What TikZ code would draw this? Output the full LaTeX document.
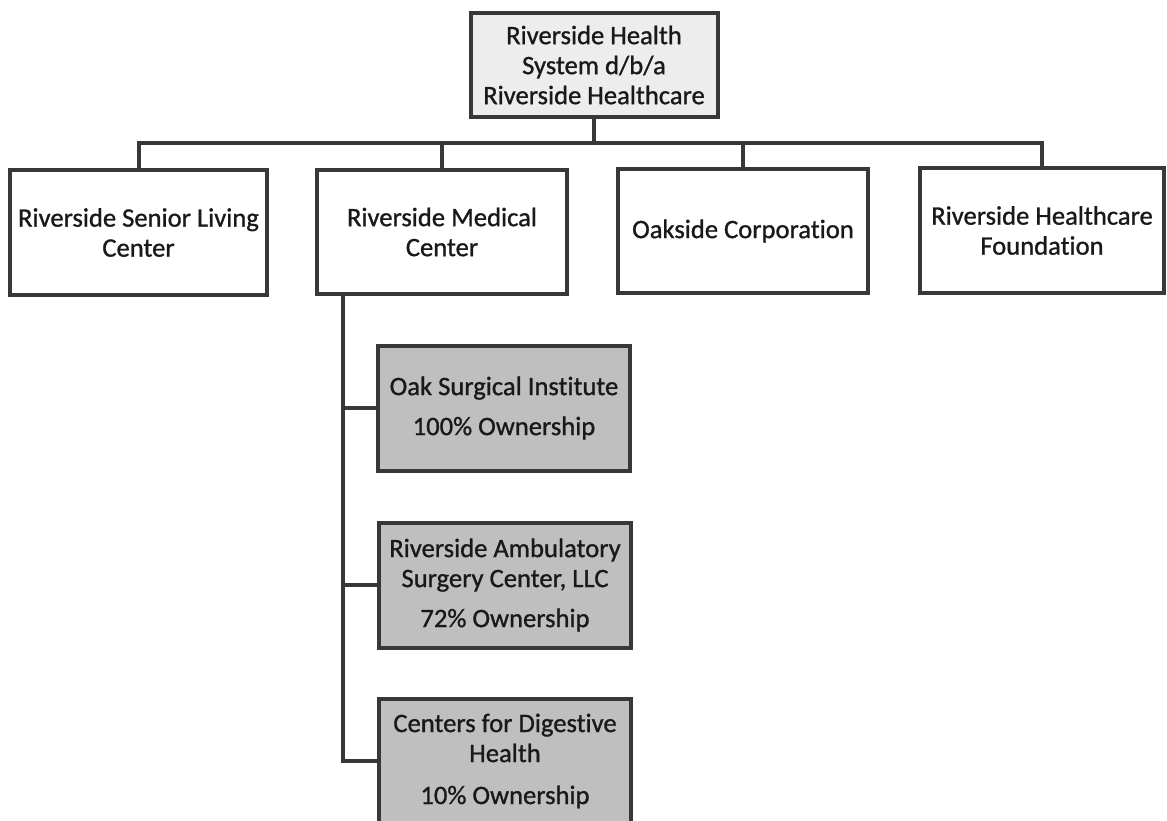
\documentclass[tikz,border=0pt]{standalone}
\usepackage{fontspec}
\setmainfont[RawFeature=-liga, FakeBold=1]{Carlito}
\definecolor{edge}{HTML}{383838}
\definecolor{topfill}{HTML}{EDEDED}
\definecolor{subfill}{HTML}{BFBFBF}
\begin{document}
\begin{tikzpicture}[x=1pt,y=-1pt,
  box/.style={draw=edge, line width=4pt, rectangle, inner sep=0pt, align=center,
    font=\fontsize{26.6}{30}\selectfont, text=black!90},
  whitebox/.style={box, fill=white, minimum width=250pt, minimum height=124pt},
  subbox/.style={box, fill=subfill, minimum width=252pt, minimum height=125pt},
  conn/.style={draw=edge, line width=4pt}]
\useasboundingbox (0,0) rectangle (1167,821);
\clip (0,0) rectangle (1167,821);
\fill[white] (0,0) rectangle (1167,821);

\node[box, fill=topfill, minimum width=247pt, minimum height=104pt] (top) at (594,65)
  {Riverside Health\\System d/b/a\\Riverside Healthcare};

\node[whitebox, minimum width=257pt] (b1) at (138.5,232.5) {Riverside Senior Living\\Center};
\node[whitebox] (b2) at (442,232) {Riverside Medical\\Center};
\node[whitebox] (b3) at (743,231) {Oakside Corporation};
\node[whitebox, minimum width=244pt] (b4) at (1042,230.5) {Riverside Healthcare\\Foundation};

\node[subbox] (cA) at (504,408) {Oak Surgical Institute\\[10pt]100\% Ownership};
\node[subbox] (cB) at (505,585) {Riverside Ambulatory\\Surgery Center, LLC\\[10pt]72\% Ownership};
\node[subbox] (cC) at (505,761) {Centers for Digestive\\Health\\[12pt]10\% Ownership};

\coordinate (bar) at (0,143);
\coordinate (spine) at (343,0);

\draw[conn] (top.south) -- (top.south |- bar);
\draw[conn, line cap=rect] (b1.north |- bar) -- (b4.north |- bar);
\draw[conn] (b1.north |- bar) -- (b1.north);
\draw[conn] (b2.north |- bar) -- (b2.north);
\draw[conn] (b3.north |- bar) -- (b3.north);
\draw[conn] (b4.north |- bar) -- (b4.north);

\draw[conn, line join=miter] (b2.south -| spine) -- (cC.west -| spine) -- (cC.west);
\draw[conn] (cA.west -| spine) -- (cA.west);
\draw[conn] (cB.west -| spine) -- (cB.west);
\end{tikzpicture}
\end{document}
